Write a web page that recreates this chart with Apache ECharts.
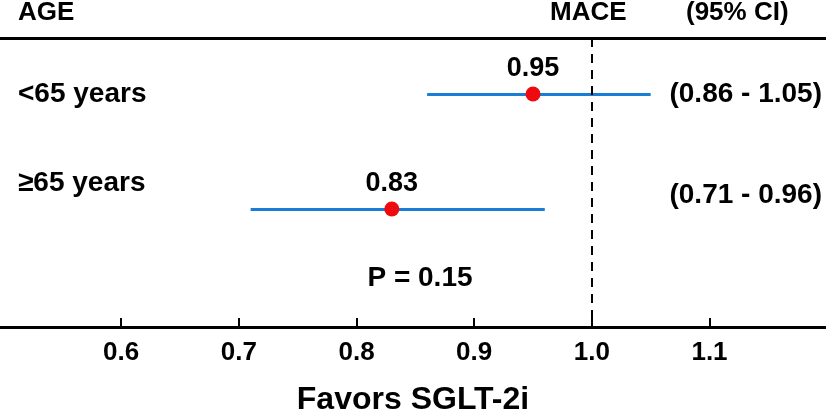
<!DOCTYPE html>
<html>
<head>
<meta charset="utf-8">
<script src="https://cdn.jsdelivr.net/npm/echarts@6/dist/echarts.min.js"></script>
<style>
  html, body { margin: 0; background: #fff; }
  #chart { width: 826px; height: 412px; }
</style>
</head>
<body>
<div id="chart"></div>
<script>
// forest plot data
const groups = ['<65 years', '≥65 years'];
const rows = [1, 2];
const estimates = [0.95, 0.83];
const lower = [0.86, 0.71];
const upper = [1.05, 0.96];
const ciLabels = ['(0.86 - 1.05)', '(0.71 - 0.96)'];
const tickValues = [0.6, 0.7, 0.8, 0.9, 1.0, 1.1];
const refValue = 1.0;
const pText = 'P = 0.15';
const xTitle = 'Favors SGLT-2i';

const FONT = '"Liberation Sans", Arial, sans-serif';
const X_MIN = 0.497;
const X_MAX = 1.199;
// the second row's texts sit above its line in the original
const rowLabelShift = [0, -26];
const ciLabelShift = [0, -14];

const chart = echarts.init(document.getElementById('chart'));

const boldText = (size) => ({
  fontFamily: FONT,
  fontWeight: 'bold',
  fontSize: size,
  color: '#000',
});

chart.setOption({
  animation: false,
  backgroundColor: '#fff',
  grid: { left: 0, right: 0, top: 38, bottom: 85, outerBoundsMode: 'none', containLabel: false },
  xAxis: [
    {
      type: 'value',
      min: X_MIN,
      max: X_MAX,
      name: xTitle,
      nameLocation: 'middle',
      nameGap: 57,
      nameTextStyle: boldText(32),
      axisLine: { lineStyle: { color: '#000', width: 3 } },
      axisTick: {
        inside: true,
        length: 9,
        customValues: tickValues,
        lineStyle: { color: '#000', width: 2 },
      },
      axisLabel: {
        customValues: tickValues,
        margin: 13,
        formatter: (v) => v.toFixed(1),
        ...boldText(26),
      },
      splitLine: { show: false },
    },
    {
      type: 'value',
      position: 'top',
      min: X_MIN,
      max: X_MAX,
      axisLine: { show: true, lineStyle: { color: '#000', width: 3 } },
      axisTick: { show: false },
      axisLabel: { show: false },
      splitLine: { show: false },
    },
  ],
  yAxis: {
    type: 'value',
    inverse: true,
    min: 0.513,
    max: 3.026,
    show: false,
  },
  graphic: [
    { type: 'text', left: 18, top: 0, style: { text: 'AGE', ...boldText(26) } },
    { type: 'text', left: 550, top: 0, style: { text: 'MACE', ...boldText(26) } },
    { type: 'text', left: 686, top: 0, style: { text: '(95% CI)', ...boldText(26) } },
    {
      type: 'text',
      x: 420,
      y: 278,
      style: { text: pText, textAlign: 'center', textVerticalAlign: 'middle', ...boldText(28) },
    },
  ],
  series: [
    {
      type: 'lines',
      coordinateSystem: 'cartesian2d',
      silent: true,
      lineStyle: { color: '#1a7fd4', width: 3, opacity: 1 },
      data: rows.map((r, i) => ({ coords: [[lower[i], r], [upper[i], r]] })),
    },
    {
      type: 'scatter',
      symbol: 'circle',
      symbolSize: 15,
      itemStyle: { color: '#ee0a0f', opacity: 1 },
      label: {
        show: true,
        position: 'top',
        distance: 4,
        formatter: (p) => p.value[0].toFixed(2),
        ...boldText(27),
      },
      data: rows.map((r, i) => [estimates[i], r]),
      markLine: {
        silent: true,
        symbol: 'none',
        label: { show: false },
        lineStyle: { color: '#000', width: 2, type: [9, 7], opacity: 1 },
        data: [{ xAxis: refValue }],
      },
      z: 5,
    },
    {
      type: 'scatter',
      symbolSize: 0,
      silent: true,
      itemStyle: { opacity: 1 },
      data: rows.map((r, i) => ({
        value: [X_MIN, r],
        name: groups[i],
        label: { offset: [0, rowLabelShift[i]] },
      })),
      label: {
        show: true,
        position: 'right',
        distance: 18,
        formatter: (p) => p.name,
        ...boldText(28),
      },
    },
    {
      type: 'scatter',
      symbolSize: 0,
      silent: true,
      itemStyle: { opacity: 1 },
      data: rows.map((r, i) => ({
        value: [X_MAX, r],
        name: ciLabels[i],
        label: { offset: [0, ciLabelShift[i]] },
      })),
      label: {
        show: true,
        position: 'left',
        distance: 4,
        formatter: (p) => p.name,
        ...boldText(28),
      },
    },
  ],
});
</script>
</body>
</html>
